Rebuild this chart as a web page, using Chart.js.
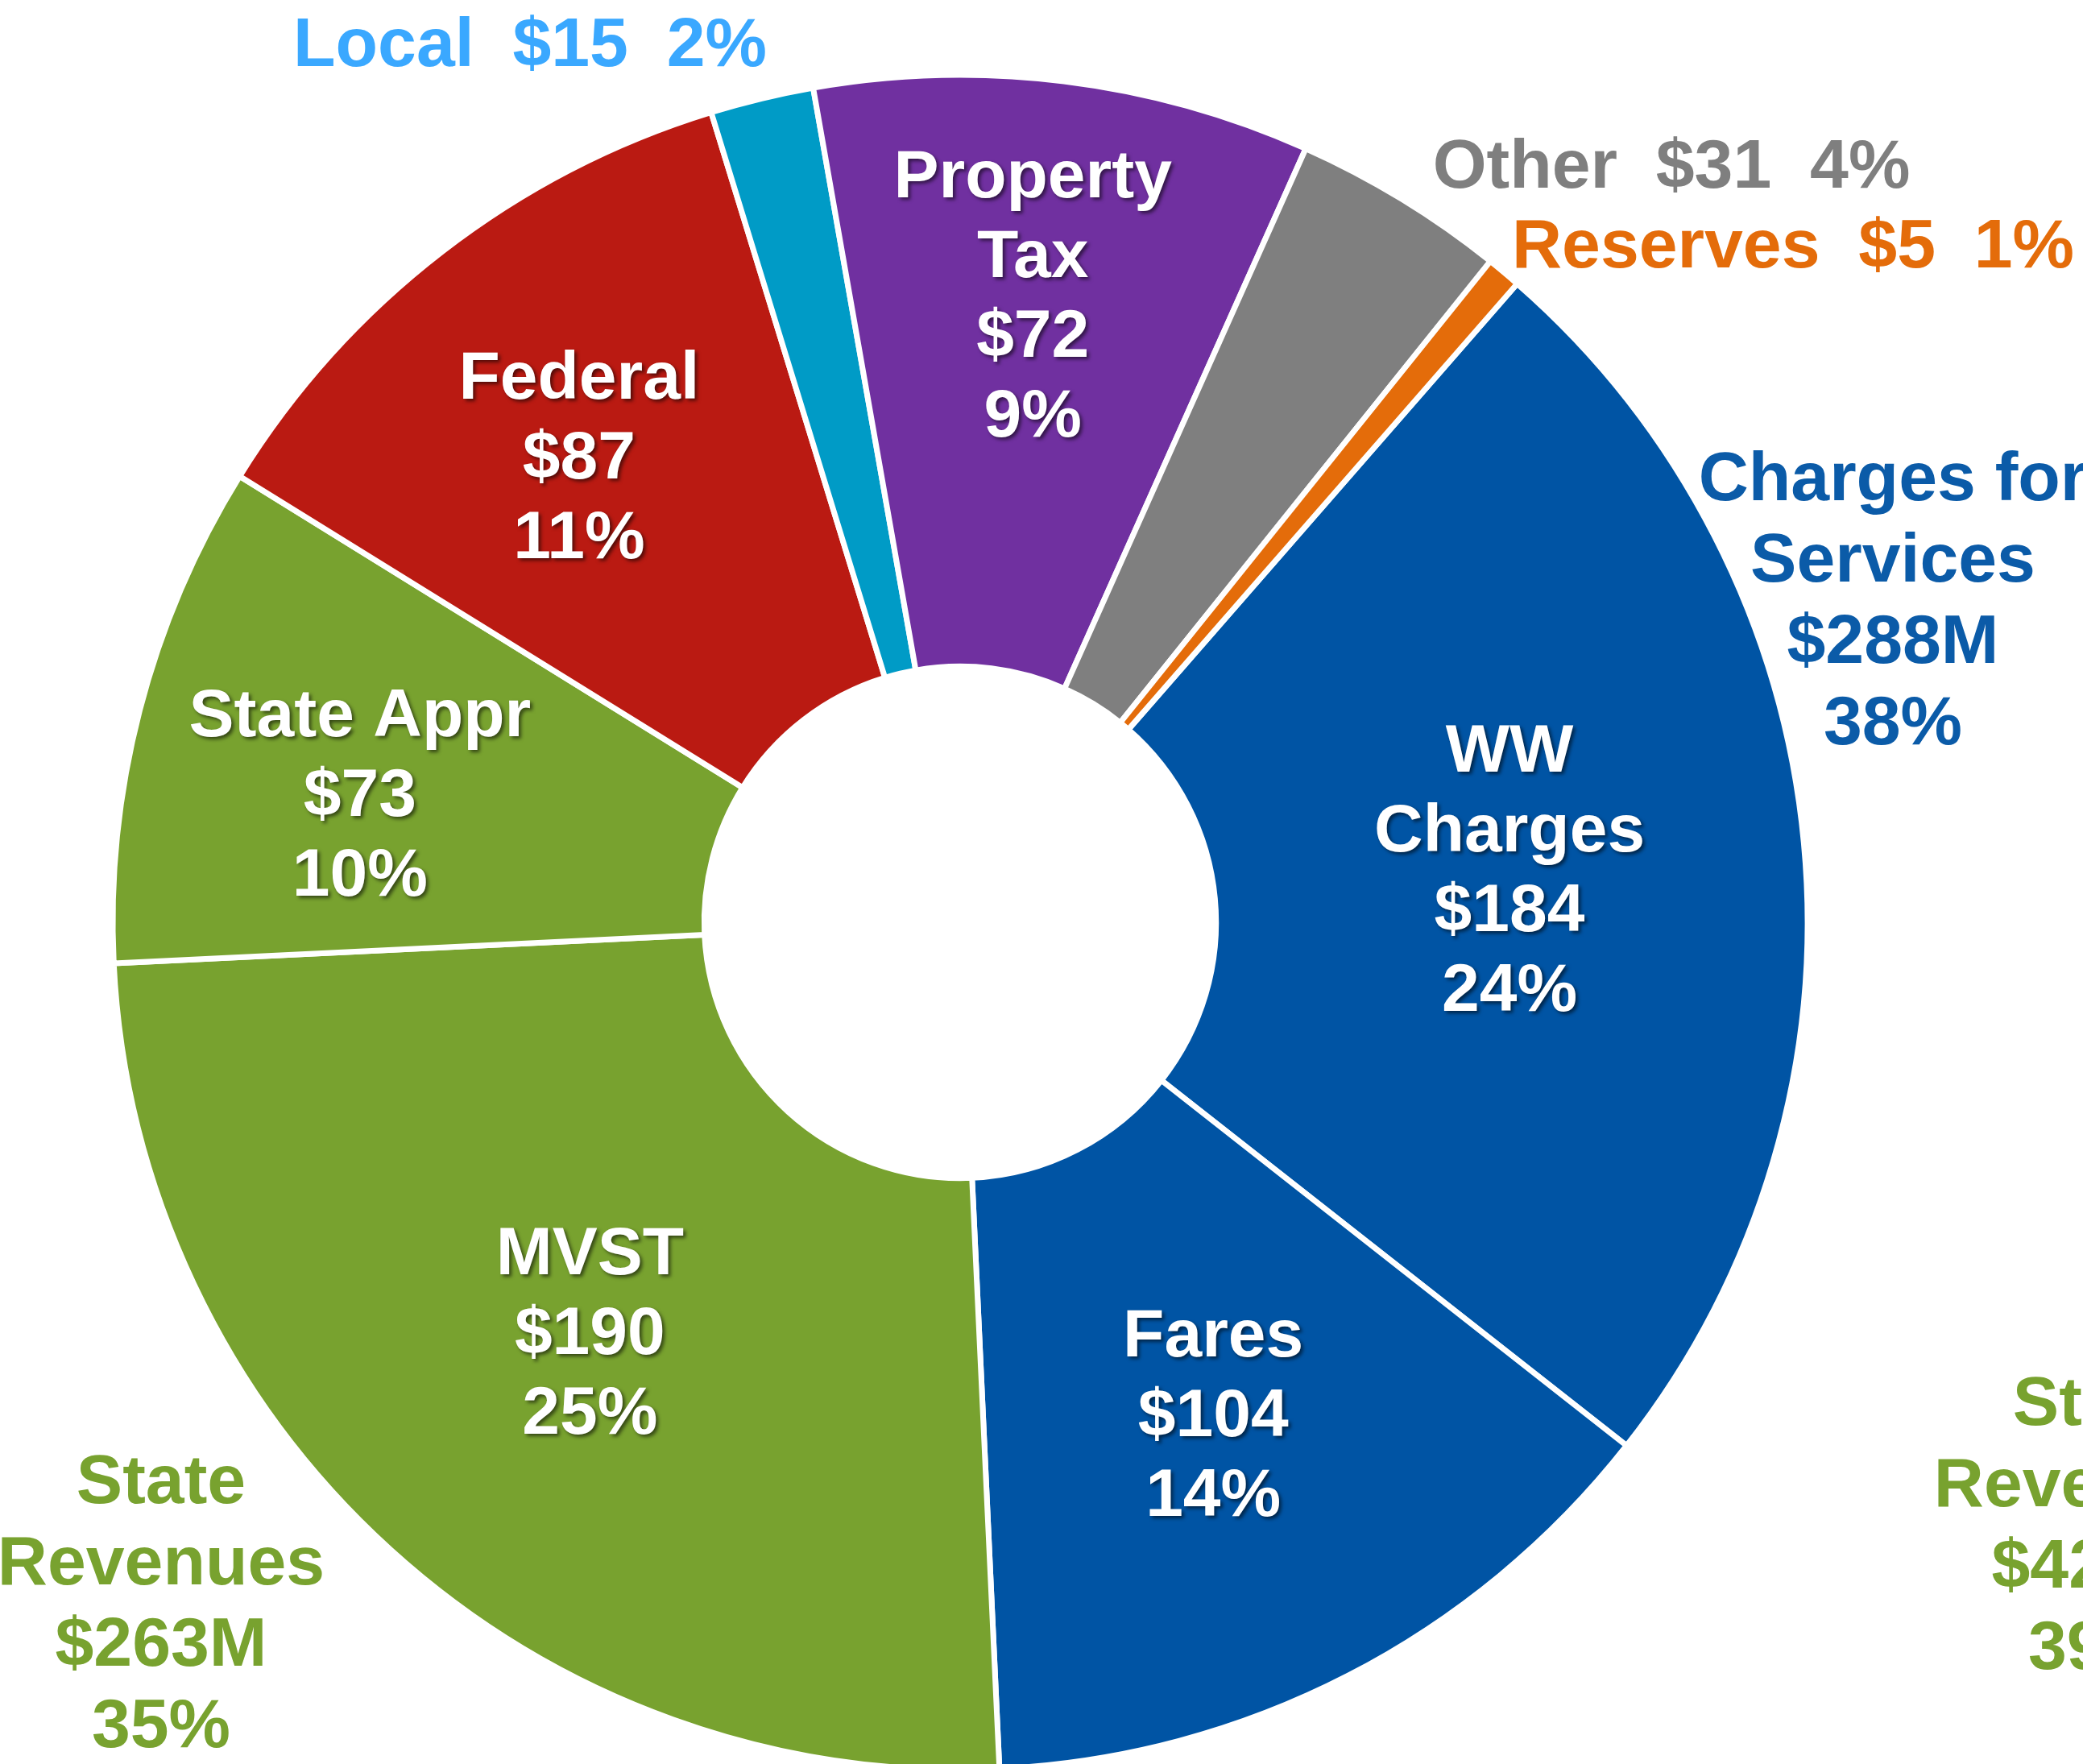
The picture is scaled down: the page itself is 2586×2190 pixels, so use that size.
<!DOCTYPE html>
<html>
<head>
<meta charset="utf-8">
<script src="https://cdn.jsdelivr.net/npm/chart.js@4.4.1/dist/chart.umd.min.js"></script>
<style>
  html, body { margin: 0; padding: 0; background: #ffffff; overflow: hidden; }
  #wrap { position: relative; width: 2586px; height: 2190px; }
</style>
</head>
<body>
<div id="wrap"><canvas id="c"></canvas></div>
<script>
// ---- data ----
const categories = ['WW Charges', 'Fares', 'MVST', 'State Appr', 'Federal', 'Local', 'Property Tax', 'Other', 'Reserves'];
const values = [184, 104, 190, 73, 87, 15, 72, 31, 5];
const percents = ['24%', '14%', '25%', '10%', '11%', '2%', '9%', '4%', '1%'];
const insideLines = [
  ['WW', 'Charges'], ['Fares'], ['MVST'], ['State Appr'], ['Federal'], null, ['Property', 'Tax'], null, null
];
const groupNames = [['Charges for', 'Services'], ['State', 'Revenues'], ['State', 'Revenues']];
const groupTotals = ['$288M', '$263M', '$420M'];
const groupPercents = ['38%', '35%', '39%'];

// ---- styles ----
const sliceColors = ['#0054A4', '#0054A4', '#78A22F', '#78A22F', '#BA1A12', '#009BC6', '#7030A0', '#7F7F7F', '#E46C0A'];
const outsideColors = ['#3AA8FF', '#7F7F7F', '#E46C0A'];
const groupColors = ['#0B5BA8', '#78A22F', '#78A22F'];
// label placement inside slices: radial fraction of ring, angle shift (deg)
const labelRadial = [0.50, 0.508, 0.505, 0.604, 0.581, 0, 0.63, 0, 0];
const labelAngleShift = [0.2, 0.2, -0.4, -2.7, -1.8, 0, -0.4, 0, 0];

const FONT = '"Liberation Sans", Arial, sans-serif';

const labelPlugin = {
  id: 'labels',
  afterDatasetsDraw(chart) {
    const ctx = chart.ctx;
    const meta = chart.getDatasetMeta(0);
    ctx.save();
    ctx.textAlign = 'center';
    ctx.textBaseline = 'middle';
    // inside labels
    meta.data.forEach((arc, i) => {
      if (!insideLines[i]) return;
      const p = arc.getProps(['x', 'y', 'startAngle', 'endAngle', 'innerRadius', 'outerRadius'], true);
      const mid = (p.startAngle + p.endAngle) / 2 + labelAngleShift[i] * Math.PI / 180;
      const r = p.innerRadius + labelRadial[i] * (p.outerRadius - p.innerRadius);
      const cx = p.x + r * Math.cos(mid);
      const cy = p.y + r * Math.sin(mid);
      const lines = insideLines[i].concat(['$' + values[i], percents[i]]);
      const lh = 99;
      ctx.font = 'bold 84px ' + FONT;
      ctx.fillStyle = '#ffffff';
      ctx.shadowColor = 'rgba(0,0,0,0.55)';
      ctx.shadowOffsetX = 3;
      ctx.shadowOffsetY = 3;
      ctx.shadowBlur = 4;
      lines.forEach((t, k) => {
        ctx.fillText(t, cx, cy + (k - (lines.length - 1) / 2) * lh);
      });
    });
    ctx.shadowColor = 'rgba(0,0,0,0)';
    ctx.shadowOffsetX = 0; ctx.shadowOffsetY = 0; ctx.shadowBlur = 0;
    // outside single-line labels for small slices
    const small = [[5, 658, 58], [7, 2075, 209], [8, 2226, 308]];
    ctx.font = 'bold 86px ' + FONT;
    small.forEach(([i, x, y], k) => {
      ctx.fillStyle = outsideColors[k];
      ctx.fillText(categories[i] + '  $' + values[i] + '  ' + percents[i], x, y);
    });
    // group labels
    const groupPos = [[2350, 597], [200, 1842], [2604, 1745]];
    groupPos.forEach(([x, y], g) => {
      const lines = groupNames[g].concat([groupTotals[g], groupPercents[g]]);
      ctx.fillStyle = groupColors[g];
      lines.forEach((t, k) => ctx.fillText(t, x, y + k * 101));
    });
    ctx.restore();
  }
};

new Chart(document.getElementById('c'), {
  type: 'doughnut',
  data: {
    labels: categories,
    datasets: [{
      data: values,
      backgroundColor: sliceColors,
      borderColor: '#ffffff',
      borderWidth: 7
    }]
  },
  options: {
    responsive: true,
    maintainAspectRatio: false,
    animation: false,
    rotation: 41.1,
    cutout: '30.2%',
    radius: 1052,
    layout: { padding: { left: 0, right: 202, top: 100, bottom: 0 } },
    plugins: { legend: { display: false }, tooltip: { enabled: false } }
  },
  plugins: [labelPlugin]
});
</script>
</body>
</html>
